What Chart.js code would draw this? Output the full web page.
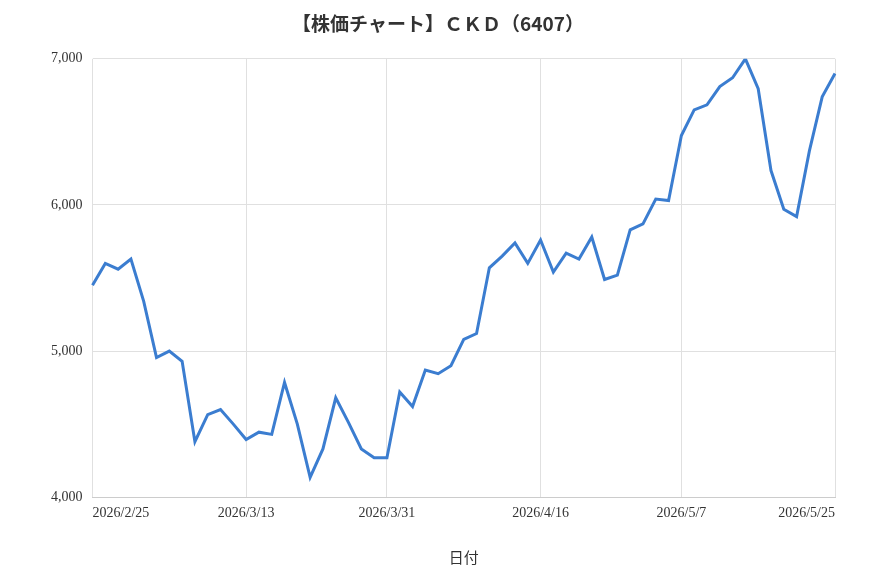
<!doctype html>
<html lang="ja">
<head>
<meta charset="utf-8">
<title>CKD 6407</title>
<style>
  * { margin: 0; padding: 0; }
  body { background: #fff; }
  .chartBox { width: 870px; height: 580px; }
</style>
</head>
<body>
<div class="chartBox"><canvas id="myChart"></canvas></div>
<script src="https://cdn.jsdelivr.net/npm/chart.js"></script>
<script>
// data
const dates = [
  '2026/2/25','2026/2/26','2026/2/27','2026/3/2','2026/3/3','2026/3/4','2026/3/5','2026/3/6','2026/3/9','2026/3/10','2026/3/11','2026/3/12','2026/3/13',
  '2026/3/16','2026/3/17','2026/3/18','2026/3/19','2026/3/23','2026/3/24','2026/3/25','2026/3/26','2026/3/27','2026/3/30','2026/3/31',
  '2026/4/1','2026/4/2','2026/4/3','2026/4/6','2026/4/7','2026/4/8','2026/4/9','2026/4/10','2026/4/13','2026/4/14','2026/4/15','2026/4/16',
  '2026/4/17','2026/4/20','2026/4/21','2026/4/22','2026/4/23','2026/4/24','2026/4/27','2026/4/28','2026/4/30','2026/5/1','2026/5/7',
  '2026/5/8','2026/5/11','2026/5/12','2026/5/13','2026/5/14','2026/5/15','2026/5/18','2026/5/19','2026/5/20','2026/5/21','2026/5/22','2026/5/25'
];
const closes = [
  5450, 5600, 5560, 5630, 5340, 4955, 5000, 4930, 4380, 4565, 4600, 4500, 4395,
  4445, 4430, 4785, 4500, 4135, 4330, 4680, 4510, 4330, 4270, 4270,
  4720, 4620, 4870, 4845, 4900, 5080, 5120, 5570, 5650, 5740, 5600, 5760,
  5540, 5670, 5630, 5780, 5490, 5520, 5830, 5870, 6040, 6030, 6475,
  6650, 6685, 6810, 6870, 7000, 6795, 6235, 5970, 5920, 6370, 6740, 6900
];
const shownTicks = ['2026/2/25', '2026/3/13', '2026/3/31', '2026/4/16', '2026/5/7', '2026/5/25'];

const tickFont = { family: "'Liberation Serif', serif", size: 14 };

new Chart(document.getElementById('myChart'), {
  type: 'line',
  data: {
    labels: dates,
    datasets: [{
      label: 'CKD',
      data: closes,
      borderColor: '#3b7dd0',
      borderWidth: 3,
      pointRadius: 0,
      tension: 0
    }]
  },
  options: {
    responsive: true,
    maintainAspectRatio: false,
    animation: false,
    layout: { padding: { left: 41, right: 35, top: 8, bottom: 10 } },
    plugins: {
      legend: { display: false },
      title: {
        display: true,
        text: '【株価チャート】ＣＫＤ（6407）',
        color: '#333',
        font: { family: "'Noto Sans CJK JP', sans-serif", size: 19, weight: 'bold' },
        padding: { top: 4, bottom: 24 }
      }
    },
    scales: {
      x: {
        grid: {
          color: ctx => (ctx.tick && shownTicks.includes(dates[ctx.tick.value]) ? '#e0e0e0' : 'transparent'),
          drawTicks: false
        },
        border: { color: '#ccc' },
        ticks: {
          autoSkip: false,
          maxRotation: 0,
          align: 'inner',
          color: '#333',
          font: tickFont,
          padding: 8,
          callback: function (v) { const l = dates[v]; return shownTicks.includes(l) ? l : null; }
        },
        title: {
          display: true,
          text: '日付',
          color: '#333',
          font: { family: "'Noto Sans CJK JP', sans-serif", size: 15 },
          padding: { top: 18 }
        }
      },
      y: {
        min: 4000,
        max: 7000,
        grid: { color: '#e0e0e0', drawTicks: false },
        border: { display: false },
        ticks: {
          stepSize: 1000,
          color: '#333',
          font: tickFont,
          padding: 10,
          callback: v => v.toLocaleString('en-US')
        }
      }
    }
  }
});
</script>
</body>
</html>
